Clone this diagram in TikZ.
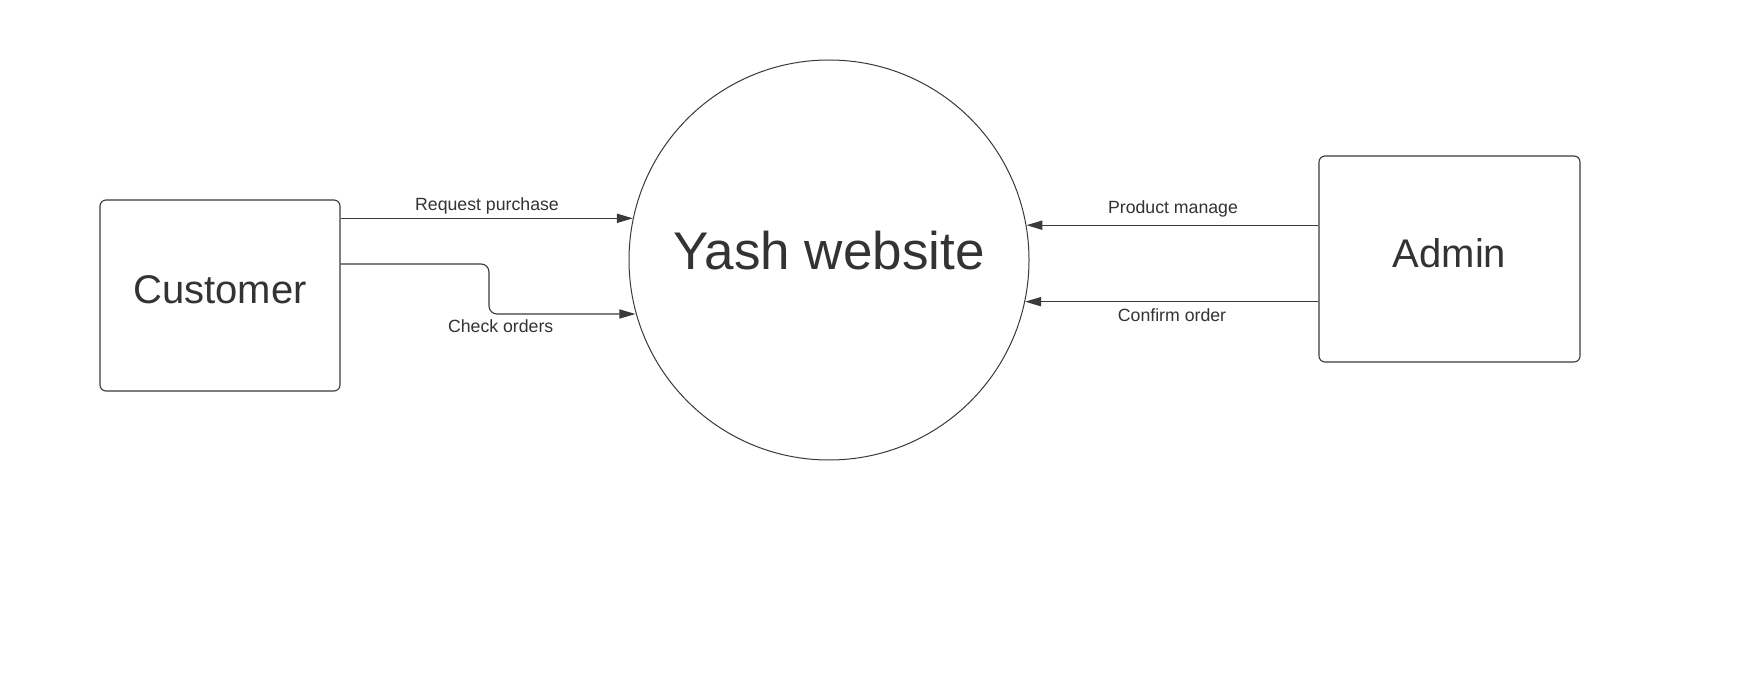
\documentclass[tikz,border=0pt]{standalone}
\usepackage{fontspec}
\setmainfont{Liberation Sans}
\usetikzlibrary{arrows.meta,calc}
\definecolor{ink}{HTML}{333333}
\definecolor{edge}{HTML}{3A3A3A}
\begin{document}
\begin{tikzpicture}[x=0.5pt,y=-0.5pt,
  entity/.style={draw=edge, line width=0.55pt, rounded corners=3pt, inner sep=0pt},
  procnode/.style={draw=edge, line width=0.5pt, circle, inner sep=0pt, minimum size=200pt},
  flow/.style={draw=edge, line width=0.55pt, -{Triangle[length=8pt,width=4.6pt]}},
  lbl/.style={text=ink, font=\fontsize{8.85pt}{10pt}\selectfont, inner sep=0pt, anchor=base},
  bigtxt/.style={text=ink, font=\fontsize{20pt}{24pt}\selectfont, inner sep=0pt, anchor=base},
  hugetxt/.style={text=ink, font=\fontsize{26.5pt}{30pt}\selectfont, inner sep=0pt, anchor=base}]
\useasboundingbox[fill=white] (0,0) rectangle (1760,678);
% nodes
\node[entity, minimum width=120pt, minimum height=95.5pt] (cust) at (220,295.5) {};
\node[procnode] (web) at (829,260) {};
\node[entity, minimum width=130.5pt, minimum height=103pt] (admin) at (1449.5,259) {};
\node[bigtxt] (custt) at (220,304) {Customer};
\node[hugetxt] (webt) at (829,270) {Yash website};
\node[bigtxt] (admint) at (1449.5,268) {Admin};
% connectors
\draw[flow] (cust.east |- web.168.1) -- (web.168.1);
\coordinate (bend) at (489,314);
\draw[flow, rounded corners=4pt] ([yshift=15.75pt]cust.east) -| (bend) -- (bend -| web.195.66);
\draw[flow] (admin.west |- web.10.28) -- (web.10.28);
\draw[flow] (admin.west |- web.-12.33) -- (web.-12.33);
% labels
\node[lbl] (l1) at (487,210.5) {Request purchase};
\node[lbl] (l2) at (500.7,332.7) {Check orders};
\node[lbl] (l3) at (1173,213.3) {Product manage};
\node[lbl] (l4) at (1172,321.7) {Confirm order};
\end{tikzpicture}
\end{document}
